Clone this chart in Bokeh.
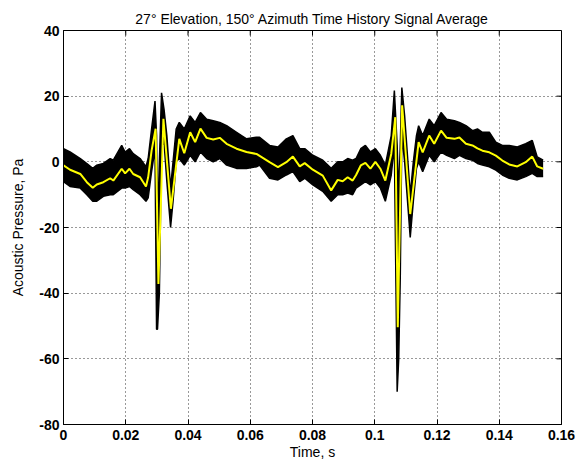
import math
from bokeh.plotting import figure
from bokeh.models import Range1d, FixedTicker, CustomJSTickFormatter
from bokeh.embed import file_html
from bokeh.resources import INLINE

# ---- data (time in ms, pressure in Pa) ----
avg_t_ms = [0, 2.1, 5.4, 7.5, 9.4, 10.7, 12.8, 15.0, 16.0, 18.7, 19.8, 21.2, 22.4, 24.6,
            26.5, 27.2, 28.3, 29.6, 30.5, 32.1, 34.5, 37.2, 38.8, 40.7, 42.3, 44.0, 46.0,
            48.1, 50.2, 52.4, 55.6, 58.8, 62.0, 66.2, 68.9, 71.6, 73.7, 75.9, 77.5, 80.1,
            83.3, 86.0, 88.1, 89.7, 91.3, 92.9, 94.0, 95.5, 97.0, 98.6, 100.2, 101.8, 103.4,
            105.3, 106.6, 107.4, 108.8, 111.4, 114.1, 115.4, 117.5, 119.1, 121.3, 123.1,
            125.6, 127.2, 129.3, 131.4, 133.0, 134.6, 136.8, 138.9, 141.0, 143.2, 145.8,
            148.5, 150.6, 152.2, 154.1]
avg_pa = [-1.1, -2.4, -3.7, -6.2, -7.9, -6.9, -6.2, -5.0, -5.7, -2.1, -3.5, -2.1, -3.7, -4.7,
          -7.5, -4.7, 3.4, 10.1, -37.2, 13.1, -14.3, 7.0, 2.6, 9.0, 6.0, 10.1, 7.3,
          6.8, 7.3, 5.5, 4.0, 3.0, 2.4, -0.1, -1.6, -0.1, 1.6, -1.4, -0.4, -2.4,
          -4.2, -8.7, -5.5, -5.9, -4.7, -5.7, -4.0, -1.1, -0.3, -2.1, 0.0, -2.1, -5.7,
          2.4, 13.6, -50.4, 17.2, -15.9, 6.0, 2.9, 8.0, 5.5, 9.5, 7.3,
          7.0, 7.4, 5.5, 5.0, 4.1, 3.4, 2.9, 1.9, 0.4, -0.8, -1.4,
          -0.1, 1.6, -1.4, -2.1]

env_t_ms = [0, 2.1, 5.4, 7.5, 9.4, 10.7, 12.8, 15.0, 16.0, 18.7, 19.8, 21.2, 22.4, 24.6,
            26.5, 27.2, 28.3, 29.4, 29.9, 30.2, 30.8, 31.5, 32.3, 33.2, 34.4, 35.2, 36.2,
            37.2, 38.8, 40.7, 42.3, 44.0, 46.0, 48.1, 50.2, 52.4, 55.6, 58.8, 62.0, 63.0,
            66.2, 68.9, 71.6, 73.7, 75.9, 77.5, 80.1, 83.3, 86.0, 88.1, 89.7, 91.3, 92.9,
            94.0, 95.5, 97.0, 98.6, 100.2, 101.8, 103.4, 105.3, 106.3, 107.2, 107.7, 108.2,
            108.7, 109.6, 111.4, 112.4, 113.4, 114.1, 115.4, 117.5, 119.1, 121.3, 123.1,
            125.6, 127.2, 129.3, 131.4, 133.0, 134.6, 136.8, 138.9, 141.0, 143.2, 145.8,
            148.5, 150.6, 152.2, 154.1]
env_upper = [4, 3, 1, -0.5, -2, -1, -0.5, 1, 0.5, 5, 3, 4, 2.5, 1,
             -1.5, 1, 10, 18.5, 8, -20, 0, 21, 16, 8, -8, 0, 10,
             12, 10, 14, 12, 15, 13, 12.5, 12, 11, 9, 7, 7.5, 7.5,
             5, 4.5, 7, 8, 4, 4, 2, 0.5, -2, 0, 0, 1, 0.5,
             1, 4, 5, 3, 4, 2, -1, 8, 21.7, 5, -10, 5,
             22.6, 14, -10, 0, 8, 11, 8, 13, 11, 15, 13,
             12.5, 12, 11, 9.5, 10, 9, 9, 6, 5, 5, 4.5,
             5.5, 6.5, 1.5, 0.5]
env_lower = [-6, -7.5, -8, -10, -12, -12, -10.5, -10, -10, -8, -8, -7.5, -8.5, -10,
             -12, -11, -3, 4, -51, -51, -40, 5, 6, -6, -20, -12, 0,
             1, -1, 2, 0, 3, 1, 0, 1, -1, -2, -2, -1.5, -1,
             -5, -5.5, -4, -3, -6, -5, -7, -9, -12, -10, -10, -9.5, -10,
             -8, -7, -6, -7, -6, -8, -12, -4, 5, -70, -60, -35,
             8, 0, -23, -12, -2, 0, -3, 2, 0, 3, 2,
             1, 2, 1, 0.5, -0.5, -1, -1.5, -2.5, -4, -5, -5.5,
             -4.5, -3.5, -4.5, -4.5]

x_lim = (0, 0.16)
y_lim = (-80, 40)
x_ticks = [0, 0.02, 0.04, 0.06, 0.08, 0.1, 0.12, 0.14, 0.16]
y_ticks = [-80, -60, -40, -20, 0, 20, 40]

avg_t = [v / 1000.0 for v in avg_t_ms]
env_t = [v / 1000.0 for v in env_t_ms]

FONT = "Liberation Sans"

p = figure(width=583, height=463, x_range=Range1d(*x_lim), y_range=Range1d(*y_lim),
           output_backend="svg", toolbar_location=None,
           title="27° Elevation, 150° Azimuth Time History Signal Average",
           min_border_left=63, min_border_right=22, min_border_top=30, min_border_bottom=39)

p.title.text_font = FONT
p.title.text_font_size = "14px"
p.title.text_font_style = "normal"
p.title.text_color = "black"
p.title.align = "center"
p.title.standoff = 8

p.outline_line_color = "black"
p.outline_line_alpha = 1
p.background_fill_color = "white"
p.border_fill_color = "white"

fmt = CustomJSTickFormatter(code="return tick.toString();")

for ax, ticks in ((p.xaxis[0], x_ticks), (p.yaxis[0], y_ticks)):
    ax.ticker = FixedTicker(ticks=ticks)
    ax.formatter = fmt
    ax.major_tick_in = 5
    ax.major_tick_out = 0
    ax.minor_tick_in = 0
    ax.minor_tick_out = 0
    ax.axis_line_color = "black"
    ax.major_tick_line_color = "black"
    ax.major_label_text_font = FONT
    ax.major_label_text_font_size = "14px"
    ax.major_label_text_font_style = "bold"
    ax.major_label_text_color = "black"
    ax.axis_label_text_font = FONT
    ax.axis_label_text_font_size = "14px"
    ax.axis_label_text_font_style = "normal"
    ax.axis_label_text_color = "black"

p.xaxis[0].axis_label = "Time, s"
p.xaxis[0].major_label_standoff = 5
p.xaxis[0].axis_label_standoff = 1
p.yaxis[0].axis_label = "Acoustic Pressure, Pa"
p.yaxis[0].major_label_standoff = 4
p.yaxis[0].axis_label_standoff = 10

# inward ticks on the top and right edges of the box
p.ray(x=x_ticks, y=[y_lim[1]] * len(x_ticks), length=5, length_units="screen",
      angle=-math.pi / 2, line_color="black", line_width=1)
p.ray(x=[x_lim[1]] * len(y_ticks), y=y_ticks, length=5, length_units="screen",
      angle=math.pi, line_color="black", line_width=1)

p.xgrid.ticker = FixedTicker(ticks=x_ticks)
p.ygrid.ticker = FixedTicker(ticks=y_ticks)
for g in (p.xgrid[0], p.ygrid[0]):
    g.grid_line_color = "black"
    g.grid_line_alpha = 0.8
    g.grid_line_dash = "1 3"
    g.grid_line_width = 1

# black band of individual records (envelope), with stroked edges
p.varea(x=env_t, y1=env_lower, y2=env_upper, fill_color="black", fill_alpha=1)
p.line(env_t, env_upper, line_color="black", line_width=1.5)
p.line(env_t, env_lower, line_color="black", line_width=1.5)
# yellow signal average
p.line(avg_t, avg_pa, line_color="#ffff00", line_width=2)

open("out.html", "w").write(file_html(p, INLINE))
